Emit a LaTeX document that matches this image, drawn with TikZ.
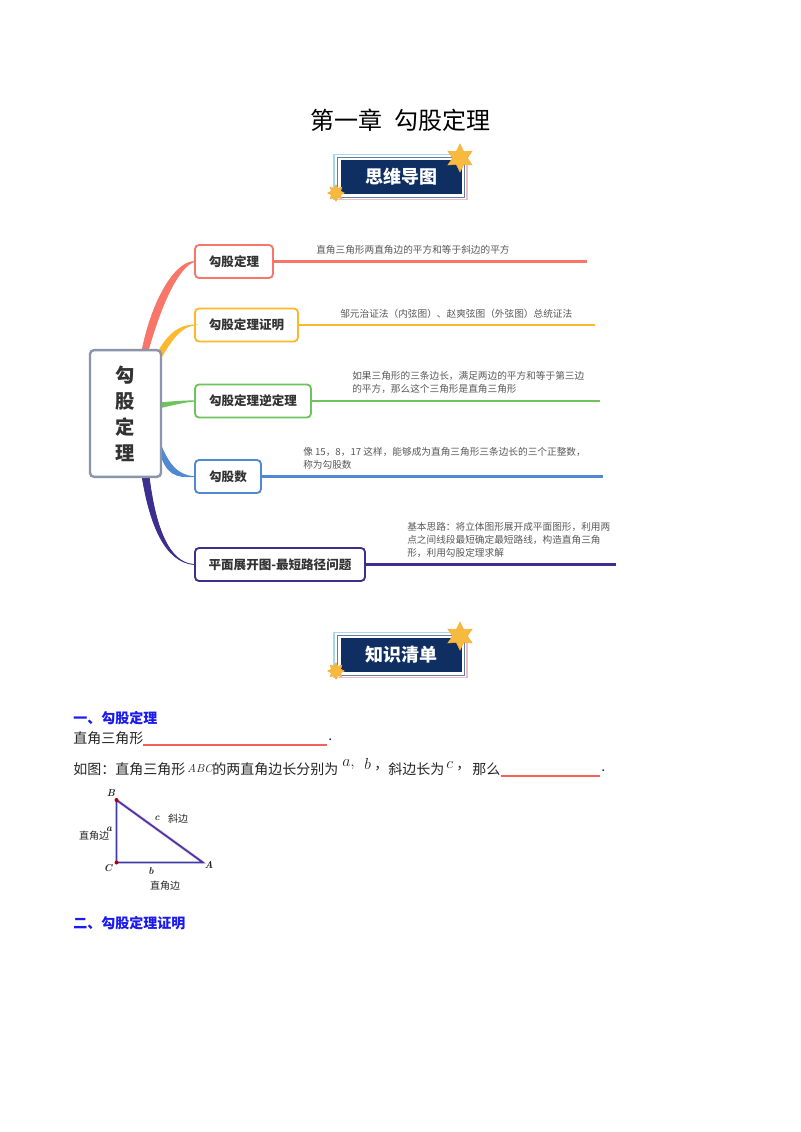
\documentclass[tikz,border=0pt]{standalone}
\usepackage{amsmath}
\usepackage{fontspec}
\newfontfamily\cjk{Noto Sans CJK SC}
\usepackage{tikz}
\usetikzlibrary{shapes.geometric}

\definecolor{redline}{HTML}{F8756A}
\definecolor{amberline}{HTML}{FDB82B}
\definecolor{greenline}{HTML}{6FC25C}
\definecolor{blueline}{HTML}{5089D2}
\definecolor{purpleline}{HTML}{3C2F8E}
\definecolor{centerline}{HTML}{8C94A8}
\definecolor{navyband}{HTML}{0F2F63}
\definecolor{midband}{HTML}{5F7FA6}
\definecolor{skyband}{HTML}{A9D6E8}
\definecolor{pinkband}{HTML}{EDBFC4}
\definecolor{staramber}{HTML}{F7B93E}
\definecolor{sidelabel}{HTML}{595959}
\definecolor{headblue}{HTML}{1A1AF0}
\definecolor{blankred}{HTML}{F4605A}
\definecolor{triline}{HTML}{3F3AA6}

\tikzset{
  branchbox/.style={draw,fill=white,rounded corners=3pt,line width=1.4pt,inner sep=0pt,minimum height=24.75pt,text=black!80,font=\cjk\bfseries\fontsize{9.4}{11}\selectfont},
  sidetext/.style={anchor=west,inner sep=0pt,align=left,text=sidelabel,font=\cjk\fontsize{7.25}{9.75}\selectfont},
  bodytext/.style={anchor=west,inner sep=0pt,text=black!85,font=\cjk\fontsize{10.5}{12}\selectfont},
  headtext/.style={anchor=west,inner sep=0pt,text=headblue,font=\cjk\bfseries\fontsize{10.5}{12}\selectfont},
  tritext/.style={inner sep=0pt,text=black!85,font=\cjk\fontsize{7.5}{9}\selectfont},
  triletter/.style={inner sep=0pt,text=black!85,font=\bfseries\itshape\fontsize{7.5}{9}\selectfont},
  blank/.style={draw=blankred,line width=0.9pt},
  bandfill/.style={fill=navyband,minimum width=90.75pt,minimum height=25.5pt,inner sep=0pt,text=white,font=\cjk\bfseries\fontsize{13.5}{15}\selectfont},
  starmark/.style={star,star points=6,star point ratio=1.9,fill=staramber,draw=staramber!85!orange,inner sep=0pt},
}

\begin{document}
\begin{tikzpicture}[x=0.75pt,y=0.75pt,yscale=-1,xscale=1]
    \path [use as bounding box,fill=white] (0,0) rectangle (800,1132);

    % Text Node
    \draw (400,120) node (title) [inner sep=0pt,font=\cjk\fontsize{18}{20}\selectfont] {第一章\hspace{0.5em}勾股定理};

    %Shape: Banner top
    \draw [draw=skyband,line width=1.2pt] (334,199.5) -- (334,154.5) -- (467,154.5);
    \draw [draw=pinkband,line width=1.2pt] (467,154.5) -- (467,199.5) -- (334,199.5);
    \draw [draw=midband,line width=0.7pt] (337.5,157.5) rectangle (464.5,197);
    \draw (401.5,177) node (mapband) [bandfill] {思维导图};
    \draw (460,158) node (mapstar) [starmark,minimum size=21pt] {};
    \draw (336,193) node (mapstarb) [starmark,star points=8,star point ratio=1.7,minimum size=12.5pt] {};

    %Shape: Banner lower
    \draw [draw=skyband,line width=1.2pt] (334,677.5) -- (334,632.5) -- (467,632.5);
    \draw [draw=pinkband,line width=1.2pt] (467,632.5) -- (467,677.5) -- (334,677.5);
    \draw [draw=midband,line width=0.7pt] (337.5,635.5) rectangle (464.5,675);
    \draw (401.5,655) node (listband) [bandfill] {知识清单};
    \draw (460,636) node (liststar) [starmark,minimum size=21pt] {};
    \draw (336,671) node (liststarb) [starmark,star points=8,star point ratio=1.7,minimum size=12.5pt] {};

    % Branch Boxes
    \draw (234,261.5) node (thm) [branchbox,draw=redline,minimum width=58.5pt] {勾股定理};
    \draw (246.5,325) node (proof) [branchbox,draw=amberline,minimum width=77.25pt] {勾股定理证明};
    \draw (253,401) node (converse) [branchbox,draw=greenline,minimum width=87pt] {勾股定理逆定理};
    \draw (228,476.5) node (triple) [branchbox,draw=blueline,minimum width=49.5pt] {勾股数};
    \draw (280,564.5) node (unfold) [branchbox,draw=purpleline,minimum width=127.5pt] {平面展开图-最短路径问题};

    % Branch Curves
    \coordinate (redA) at (142,351);
    \coordinate (redB) at (148,351);
    \coordinate (amberA) at (158,352);
    \coordinate (amberB) at (162,356);
    \coordinate (greenA) at (160,403);
    \coordinate (greenB) at (160,407.5);
    \coordinate (blueA) at (160,443);
    \coordinate (blueB) at (160,452);
    \coordinate (purpleA) at (142,476);
    \coordinate (purpleB) at (149,476);
    \filldraw [draw=redline,fill=redline,line width=0.6pt] (redA) .. controls (152,300) and (175,262) .. (thm.west) .. controls (178,268) and (162,302) .. (redB) -- cycle ;
    \filldraw [draw=amberline,fill=amberline,line width=0.6pt] (amberA) .. controls (167,336) and (178,325) .. (proof.west) .. controls (180,327) and (171,341) .. (amberB) -- cycle ;
    \filldraw [draw=greenline,fill=greenline,line width=0.9pt] (greenA) .. controls (172,402) and (182,401) .. (converse.west) .. controls (182,402) and (172,405) .. (greenB) -- cycle ;
    \filldraw [draw=blueline,fill=blueline,line width=0.6pt] (blueA) .. controls (168,464) and (178,476) .. (triple.west) .. controls (176,478) and (166,474) .. (blueB) -- cycle ;
    \filldraw [draw=purpleline,fill=purpleline,line width=0.6pt] (purpleA) .. controls (150,525) and (165,562) .. (unfold.west) .. controls (168,563) and (155,525) .. (purpleB) -- cycle ;

    %Shape: Center Box
    \draw (125.5,413.5) node (center) [draw=centerline,fill=white,rounded corners=3pt,line width=1.8pt,inner sep=0pt,minimum width=53.25pt,minimum height=95pt,align=center,text=black!80,font=\cjk\bfseries\fontsize{14.5}{19.5}\selectfont] {勾\\股\\定\\理};

    % Leaf Lines
    \coordinate (thmEnd) at (587,261.5);
    \coordinate (proofEnd) at (595,325);
    \coordinate (converseEnd) at (600,401);
    \coordinate (tripleEnd) at (603,476.5);
    \coordinate (unfoldEnd) at (616,564.5);
    \draw [draw=redline,line width=1.9pt] (thm.east) -- (thmEnd);
    \draw [draw=amberline,line width=1.7pt] (proof.east) -- (proofEnd);
    \draw [draw=greenline,line width=1.4pt] (converse.east) -- (converseEnd);
    \draw [draw=blueline,line width=1.9pt] (triple.east) -- (tripleEnd);
    \draw [draw=purpleline,line width=1.9pt] (unfold.east) -- (unfoldEnd);

    % Text Node
    \draw (316,250) node (thmtext) [sidetext] {直角三角形两直角边的平方和等于斜边的平方};
    % Text Node
    \draw (340,313.5) node (prooftext) [sidetext] {邹元治证法（内弦图）、赵爽弦图（外弦图）总统证法};
    % Text Node
    \draw (352,382.5) node (conversetext) [sidetext] {如果三角形的三条边长，满足两边的平方和等于第三边\\的平方，那么这个三角形是直角三角形};
    % Text Node
    \draw (303,458.5) node (tripletext) [sidetext] {像 15，8，17 这样，能够成为直角三角形三条边长的三个正整数，\\称为勾股数};
    % Text Node
    \draw (407,540) node (unfoldtext) [sidetext] {基本思路：将立体图形展开成平面图形，利用两\\点之间线段最短确定最短路线，构造直角三角\\形，利用勾股定理求解};

    % Text Node
    \draw (73,718) node (headone) [headtext] {一、勾股定理};
    % Text Node
    \draw (73,738) node (lineone) [bodytext] {直角三角形};
    \coordinate (blankoneA) at (143,745);
    \coordinate (blankoneB) at (327,745);
    \draw [blank] (blankoneA) -- (blankoneB);
    \draw (328,740) node (dotone) [bodytext] {.};

    % Text Node
    \draw (73,769) node (linetwo) [bodytext] {如图：直角三角形};
    \draw (187,769) node (abc) [bodytext,font=\itshape\fontsize{8.6}{10}\selectfont] {ABC};
    \draw (212,769) node (linetwob) [bodytext] {的两直角边长分别为};
    \draw (342,765) node (leta) [bodytext,font=\fontsize{13}{15}\selectfont] {$a,$};
    \draw (364,764) node (letb) [bodytext,font=\fontsize{13}{15}\selectfont] {$b$};
    \draw (374,769) node (commab) [bodytext] {，};
    \draw (388,769) node (linetwoc) [bodytext] {斜边长为};
    \draw (446,765) node (letc) [bodytext,font=\fontsize{13}{15}\selectfont] {$c$};
    \draw (456,769) node (commac) [bodytext] {，};
    \draw (472,769) node (linetwod) [bodytext] {那么};
    \coordinate (blanktwoA) at (501,776);
    \coordinate (blanktwoB) at (600,776);
    \draw [blank] (blanktwoA) -- (blanktwoB);
    \draw (601,771) node (dottwo) [bodytext] {.};

    %Shape: Triangle
    \coordinate (ptB) at (116.5,800);
    \coordinate (ptC) at (116.5,862.5);
    \coordinate (ptA) at (203,862.5);
    \draw [draw=magenta!25,line width=2.2pt] (ptB) -- (ptA);
    \draw [draw=triline,line width=1.3pt] (ptB) -- (ptC) -- (ptA) -- cycle ;
    \fill [red!70!black] (ptB) circle (2);
    \fill [red!70!black] (ptC) circle (2);

    % Text Node
    \draw (111,793) node (labB) [triletter] {B};
    \draw (108,868) node (labC) [triletter] {C};
    \draw (209,865) node (labA) [triletter] {A};
    \draw (109,829) node (laba) [triletter] {a};
    \draw (151,871) node (labb) [triletter] {b};
    \draw (157,818) node (labc) [triletter] {c};
    \draw (178,819) node (labhyp) [tritext] {斜边};
    \draw (94,836) node (lableg) [tritext] {直角边};
    \draw (165,886) node (labbase) [tritext] {直角边};

    % Text Node
    \draw (73,923) node (headtwo) [headtext] {二、勾股定理证明};

  \end{tikzpicture}
\end{document}
